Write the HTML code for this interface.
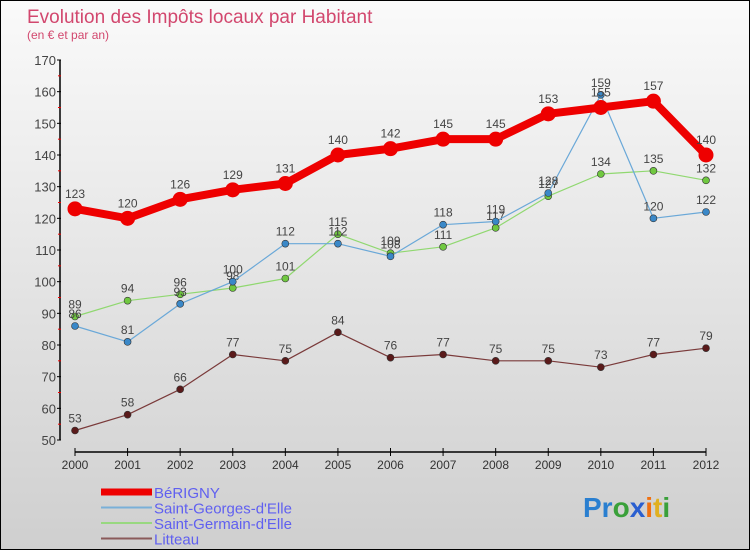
<!DOCTYPE html>
<html><head><meta charset="utf-8"><style>
body{margin:0;width:750px;height:550px;overflow:hidden;font-family:"Liberation Sans",sans-serif}
#c{position:absolute;left:0;top:0;width:748px;height:548px;border:1px solid #000;background:linear-gradient(#fafafa,#cfcfcf)}
</style></head><body>
<div id="c">
<svg id="s" width="748" height="548" xmlns="http://www.w3.org/2000/svg">
<text x="26" y="22" font-size="19" fill="#d2476e">Evolution des Impôts locaux par Habitant</text>
<text x="26" y="38" font-size="12" fill="#d2476e">(en € et par an)</text>
<g id="axes"></g><g id="series"></g><g id="legend"></g>
<text x="582" y="516" font-size="28" font-weight="bold"><tspan fill="#2a7fd0">Pr</tspan><tspan fill="#3aa03a">o</tspan><tspan fill="#2a5fd0">x</tspan><tspan fill="#f07010">i</tspan><tspan fill="#e0b020">t</tspan><tspan fill="#3aa03a">i</tspan></text>
</svg></div>
<script>
const years=[2000,2001,2002,2003,2004,2005,2006,2007,2008,2009,2010,2011,2012];
const berigny=[123,120,126,129,131,140,142,145,145,153,155,157,140];
const stGeorges=[86,81,93,100,112,112,108,118,119,128,159,120,122];
const stGermain=[89,94,96,98,101,115,109,111,117,127,134,135,132];
const litteau=[53,58,66,77,75,84,76,77,75,75,73,77,79];
const yTicks=[50,60,70,80,90,100,110,120,130,140,150,160,170];
const NS="http://www.w3.org/2000/svg";
const X=i=>74+i*(705-74)/(years.length-1);
const Y=v=>439-(v-50)*(380/120);
function mk(t,a,p){const e=document.createElementNS(NS,t);for(const k in a)e.setAttribute(k,a[k]);p.appendChild(e);return e;}
const ax=document.getElementById('axes');
const yl=mk('line',{x1:59,y1:Y(170),x2:59,y2:Y(50),stroke:'#000','stroke-width':1.5},ax);


yTicks.forEach(v=>{
 mk('line',{x1:56,y1:Y(v),x2:60,y2:Y(v),stroke:'#000'},ax);
 if(v<170)mk('line',{x1:57,y1:Y(v+5),x2:60,y2:Y(v+5),stroke:'#e00'},ax);
 const t=mk('text',{x:55,y:Y(v)+5,'font-size':13,fill:'#444','text-anchor':'end'},ax);t.textContent=v;
 
 
});
const xl=mk('line',{x1:X(0),y1:451,x2:X(12),y2:451,stroke:'#000','stroke-width':1.5},ax);


years.forEach((y,i)=>{
 mk('line',{x1:X(i),y1:447,x2:X(i),y2:455,stroke:'#000'},ax);
 const t=mk('text',{x:X(i),y:468,'font-size':12,fill:'#333','text-anchor':'middle'},ax);t.textContent=y;
 
 
});
const sg=document.getElementById('series');
const series=[
 {n:'Litteau',d:litteau,c:'#7a3a3a',pc:'#5a1a1a',w:1.2,r:3.5},
 {n:'Saint-Germain-d\'Elle',d:stGermain,c:'#90d870',pc:'#70c840',w:1.2,r:3.5},
 {n:'Saint-Georges-d\'Elle',d:stGeorges,c:'#6aa8d8',pc:'#3a88c8',w:1.2,r:3.5},
 {n:'BéRIGNY',d:berigny,c:'#ee0000',pc:'#ee0000',w:8,r:7.5}
];
series.forEach(s=>{
 const g=mk('g',{},sg);
 
 
 const p=mk('polyline',{points:s.d.map((v,i)=>X(i)+','+Y(v)).join(' '),fill:'none',stroke:s.c,'stroke-width':s.w,'stroke-linejoin':'round'},g);
 
 
 s.d.forEach((v,i)=>{
  const c=mk('circle',{cx:X(i),cy:Y(v),r:s.r,fill:s.pc,stroke:'#333','stroke-width':s.w>2?0:0.6},g);
  
  
  const t=mk('text',{x:X(i),y:Y(v)-(s.w>2?11:8),'font-size':12,fill:'#444','text-anchor':'middle'},g);t.textContent=v;
  
  
 });
});
const lg=document.getElementById('legend');
const leg=[['BéRIGNY','#ee0000',7],['Saint-Georges-d\'Elle','#7ab0d8',2],['Saint-Germain-d\'Elle','#98d880',2],['Litteau','#8a5a5a',2]];
leg.forEach((l,i)=>{
 const y=491+i*15.5;
 const ln=mk('line',{x1:100,y1:y,x2:151,y2:y,stroke:l[1],'stroke-width':l[2]},lg);
 
 
 const t=mk('text',{x:153,y:y+6,'font-size':15,fill:'#6060f0'},lg);t.textContent=l[0];
 
 
});
</script></body></html>
